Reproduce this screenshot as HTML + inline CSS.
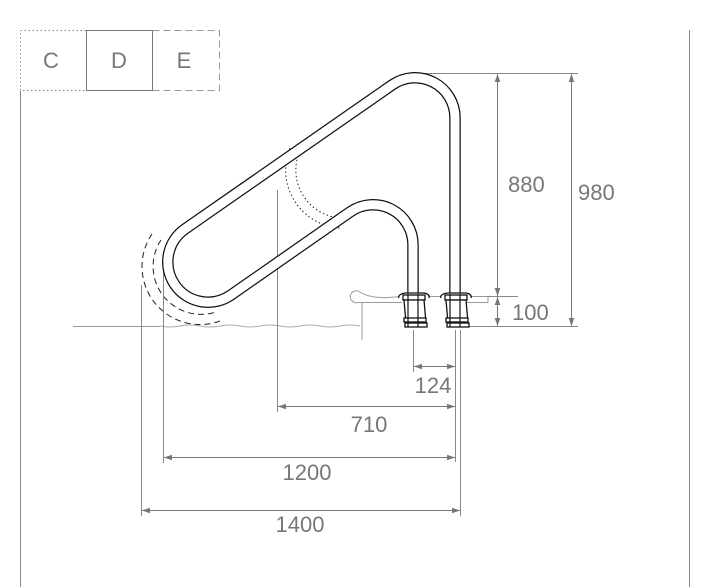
<!DOCTYPE html>
<html><head><meta charset="utf-8"><style>
html,body{margin:0;padding:0;background:#fff;}
svg{display:block;}
text{font-family:"Liberation Sans",sans-serif;fill:#777;}
</style></head><body>
<svg width="714" height="587" viewBox="0 0 714 587" xmlns="http://www.w3.org/2000/svg">
<defs>
<marker id="a" viewBox="0 0 10 10" refX="10" refY="5" markerWidth="8" markerHeight="8" orient="auto-start-reverse"><path d="M0,1.5 L10,5 L0,8.5 z" fill="#777"/></marker>
</defs>
<line x1="20.5" y1="91" x2="20.5" y2="587" stroke="#888" stroke-width="1"/>
<line x1="689.5" y1="30" x2="689.5" y2="587" stroke="#888" stroke-width="1"/>
<rect x="20.5" y="30.5" width="66" height="60" fill="none" stroke="#888" stroke-dasharray="1.5,2.5"/>
<rect x="86.5" y="30.5" width="66" height="60" fill="none" stroke="#777"/>
<path d="M152.5,30.5 H219.5 V90.5 H152.5" fill="none" stroke="#999" stroke-dasharray="7,4"/>
<text x="51" y="68" font-size="22" text-anchor="middle">C</text>
<text x="119" y="68" font-size="22" text-anchor="middle">D</text>
<text x="184" y="68" font-size="22" text-anchor="middle">E</text>

<path d="M152,234 A58,58 0 0 0 220,321" fill="none" stroke="#222" stroke-width="1" stroke-dasharray="6,4"/>
<path d="M161,240 A48,48 0 0 0 216,312" fill="none" stroke="#222" stroke-width="1" stroke-dasharray="6,4"/>
<path d="M290,148 A58,58 0 0 0 340,228" fill="none" stroke="#222" stroke-width="1" stroke-dasharray="1.5,2.5"/>
<path d="M298,156 A48,48 0 0 0 340,218" fill="none" stroke="#222" stroke-width="1" stroke-dasharray="1.5,2.5"/>

<line x1="73" y1="326.5" x2="160" y2="326.5" stroke="#999"/>
<path d="M160,326 Q170,328 180,326 T200,326 T220,326 T240,326 T260,326 T280,326 T300,326 T320,326 T340,326 T360,326" fill="none" stroke="#aaa"/>
<path d="M362,340 V302.5 H402 M362,302.5 H358 A6,6 0 1 1 360,292 Q372,300 400,296.5 M424,296.5 H444 M466,296.5 H488 V302.5 H466" fill="none" stroke="#999"/>

<g stroke="#888" stroke-width="1">
<line x1="277.5" y1="190" x2="277.5" y2="412"/>
<line x1="163.5" y1="262" x2="163.5" y2="463"/>
<line x1="141.5" y1="285" x2="141.5" y2="516"/>
<line x1="455.5" y1="330" x2="455.5" y2="462"/>
<line x1="460.5" y1="330" x2="460.5" y2="516"/>
<line x1="413.5" y1="330" x2="413.5" y2="372"/>
<line x1="420" y1="73.5" x2="578" y2="73.5"/>
<line x1="466" y1="326.5" x2="578" y2="326.5"/>
<line x1="488" y1="296.5" x2="518" y2="296.5"/>
</g>
<g stroke="#777" stroke-width="1" fill="none" marker-start="url(#a)" marker-end="url(#a)">
<line x1="497.5" y1="74" x2="497.5" y2="296"/>
<line x1="497.5" y1="297" x2="497.5" y2="326"/>
<line x1="571.5" y1="74" x2="571.5" y2="326"/>
<line x1="414" y1="366.5" x2="455" y2="366.5"/>
<line x1="278" y1="406.5" x2="455" y2="406.5"/>
<line x1="164" y1="457.5" x2="455" y2="457.5"/>
<line x1="142" y1="510.5" x2="460" y2="510.5"/>
</g>
<text x="508" y="192" font-size="22">880</text>
<text x="578" y="200" font-size="22">980</text>
<text x="512" y="320" font-size="22">100</text>
<text x="433" y="393" font-size="22" text-anchor="middle">124</text>
<text x="369" y="432" font-size="22" text-anchor="middle">710</text>
<text x="307" y="480" font-size="22" text-anchor="middle">1200</text>
<text x="300" y="532" font-size="22" text-anchor="middle">1400</text>

<path d="M455,300 L455,118 A40,40 0 0 0 392,85 L185,229 A40,40 0 0 0 231,295 L350,212 A40,40 0 0 1 413,245 L413,300" fill="none" stroke="#111" stroke-width="11.5"/>
<path d="M455,300 L455,118 A40,40 0 0 0 392,85 L185,229 A40,40 0 0 0 231,295 L350,212 A40,40 0 0 1 413,245 L413,300" fill="none" stroke="#fff" stroke-width="9"/>

<g fill="#fff" stroke="#111" stroke-width="1.3">
<path d="M399,298 A8,4 0 0 1 407,293 H424 A6,4 0 0 1 429,298"/>
<rect x="403" y="295" width="22" height="5"/>
<path d="M404,300 H424 L426,323 H406 Z"/>
<rect x="404" y="318" width="22" height="4"/>
<rect x="405" y="323" width="22" height="4"/>
<path d="M441,298 A8,4 0 0 1 449,293 H466 A6,4 0 0 1 471,298"/>
<rect x="445" y="295" width="22" height="5"/>
<path d="M446,300 H466 L468,323 H448 Z"/>
<rect x="446" y="318" width="22" height="4"/>
<rect x="447" y="323" width="22" height="4"/>
</g>
<g stroke="#111" stroke-width="1.2">
<line x1="408" y1="294" x2="408" y2="327"/><line x1="418" y1="294" x2="418" y2="327"/>
<line x1="450" y1="294" x2="450" y2="327"/><line x1="460" y1="294" x2="460" y2="327"/>
</g>
</svg>
</body></html>
